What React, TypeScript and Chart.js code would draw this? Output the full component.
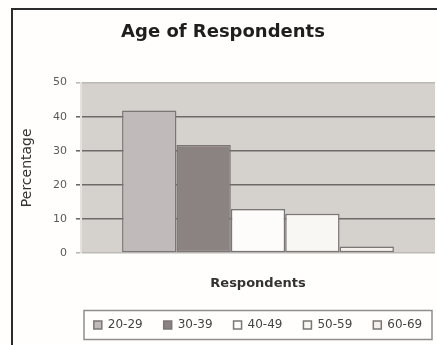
import React, { useEffect, useRef } from 'react';
import { Chart, registerables } from 'chart.js';

Chart.register(...registerables);

// Survey results: share of respondents per age band
const CATEGORIES = [''];
const AGE_GROUPS = ['20-29', '30-39', '40-49', '50-59', '60-69'];
const PERCENTAGES = [41.8, 31.7, 12.9, 11.5, 1.9];
const Y_TICKS = [0, 10, 20, 30, 40, 50];

const BAR_COLORS = ['#c1baba', '#8b8282', '#fefcfa', '#f9f7f4', '#f3f0ec'];
const FONT = "'DejaVu Sans', Verdana, sans-serif";

const W = 437;
const H = 345;

// Page frame, plot wall fill, legend centring and legend border.
const chartDecor = {
  id: 'chartDecor',
  beforeDraw(chart: any) {
    const { ctx, chartArea: a, width, height } = chart;
    ctx.save();
    ctx.fillStyle = '#fffefc';
    ctx.fillRect(0, 0, width, height);
    // frame: left and top edges only
    ctx.fillStyle = '#2b2b2b';
    ctx.fillRect(11, 8, 2, height - 8);
    ctx.fillRect(11, 8, width - 11, 2);
    ctx.fillStyle = '#d5d1cd';
    ctx.fillRect(a.left, a.top, a.right - a.left, a.bottom - a.top);
    ctx.restore();
  },
  afterLayout(chart: any) {
    const lg = chart.legend;
    if (!lg) return;
    const a = chart.chartArea;
    const shift = (a.left + a.right) / 2 - (lg.left + lg.right) / 2;
    lg.left += shift;
    lg.right += shift;
  },
  afterDraw(chart: any) {
    const { ctx, chartArea: a, width, height } = chart;
    ctx.save();
    // keep the right margin clear
    ctx.fillStyle = '#fffefc';
    ctx.fillRect(a.right + 0.5, 10, width - a.right, height - 10);
    const lg = chart.legend;
    if (lg) {
      const pad = lg.options.labels.padding;
      const cy = lg.top + pad + 6;
      ctx.strokeStyle = '#8e8e8e';
      ctx.lineWidth = 1.5;
      ctx.strokeRect(a.left + 3, cy - 14.5, a.right - a.left - 6, 29);
    }
    ctx.restore();
  },
};

export default function App() {
  const ref = useRef<HTMLCanvasElement>(null);

  useEffect(() => {
    if (!ref.current) return;
    const chart = new Chart(ref.current, {
      type: 'bar',
      data: {
        labels: CATEGORIES,
        datasets: AGE_GROUPS.map((g, i) => ({
          label: g,
          data: [PERCENTAGES[i]],
          backgroundColor: BAR_COLORS[i],
          borderColor: '#7b7676',
          borderWidth: 1.5,
          borderSkipped: false,
          categoryPercentage: 0.768,
          barPercentage: 1,
        })),
      },
      options: {
        responsive: false,
        animation: false,
        devicePixelRatio: 1,
        layout: { padding: { top: 8, left: 11, right: 2, bottom: 4 } },
        plugins: {
          title: {
            display: true,
            text: 'Age of Respondents',
            color: '#1e1e1e',
            font: { family: FONT, size: 18, weight: 'bold' },
            padding: { top: 14, bottom: 39 },
          },
          legend: {
            position: 'bottom',
            labels: {
              boxWidth: 8,
              boxHeight: 8,
              padding: 21,
              color: '#444',
              font: { family: FONT, size: 12 },
            },
          },
          tooltip: { enabled: false },
        },
        scales: {
          x: {
            afterFit(scale: any) {
              scale.height = 45;
            },
            grid: { display: false },
            border: { display: false },
            ticks: { display: false },
            title: {
              display: true,
              text: 'Respondents',
              color: '#333',
              font: { family: FONT, size: 13, weight: 'bold' },
              padding: { top: 0, bottom: 7 },
            },
          },
          y: {
            min: 0,
            max: 50,
            afterFit(scale: any) {
              scale.width = 70;
            },
            afterBuildTicks(scale: any) {
              scale.ticks = Y_TICKS.map((v) => ({ value: v }));
            },
            ticks: {
              padding: 9,
              color: '#5a5a5a',
              font: { family: FONT, size: 11 },
            },
            grid: {
              color: (c: any) =>
                c.tick && (c.tick.value === 50 || c.tick.value === 0) ? '#bdb9b6' : '#6e6a68',
              lineWidth: 1.6,
              tickLength: 5,
            },
            border: { display: true, color: '#e4e1de', width: 2 },
            title: {
              display: true,
              text: 'Percentage',
              color: '#333',
              font: { family: FONT, size: 14 },
              padding: { top: 8, bottom: 0 },
            },
          },
        },
      },
      plugins: [chartDecor],
    });
    return () => chart.destroy();
  }, []);

  return (
    <div style={{ position: 'absolute', left: 0, top: 0, width: W, height: H }}>
      <canvas ref={ref} width={W} height={H} style={{ display: 'block', width: W, height: H }} />
    </div>
  );
}
